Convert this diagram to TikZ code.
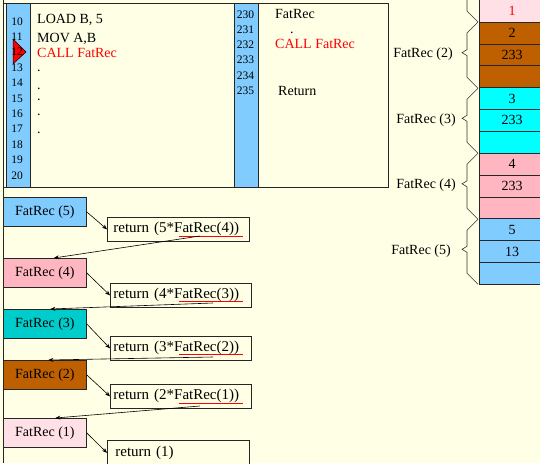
\documentclass[tikz,border=0pt]{standalone}
\usepackage{fontspec}
\setmainfont{Liberation Serif}
\usetikzlibrary{arrows.meta}
\definecolor{bg}{RGB}{255,255,230}
\definecolor{lblue}{RGB}{128,204,255}
\definecolor{brownc}{RGB}{191,96,0}
\definecolor{cyanc}{RGB}{0,255,255}
\definecolor{dcyan}{RGB}{0,204,204}
\definecolor{pinkc}{RGB}{255,182,193}
\definecolor{lpink}{RGB}{255,224,230}
\newcommand\mybrace[2]{\draw[brc] (478,#1) -- (467,#1+11) -- (467,{(#1+#2)/2-5.5}) -- (462,{(#1+#2)/2-2.5}) -- (467,{(#1+#2)/2+0.5}) -- (467,#2-11) -- (478,#2);}
\begin{document}
\begin{tikzpicture}[x=1pt,y=-1pt, font=\fontsize{14}{16}\selectfont,
  frame/.style={draw=black!85, line width=0.7pt},
  fbox/.style={frame, minimum width=83, minimum height=29, inner sep=0, anchor=north west},
  rbox/.style={frame, fill=bg, anchor=north west, minimum height=24, inner ysep=0, align=left, font=\fontsize{15}{17}\selectfont},
  cell/.style={frame, minimum width=66, minimum height=21.86, inner sep=0},
  lnum/.style={font=\fontsize{11.5}{12}\selectfont, anchor=base, inner sep=0},
  code/.style={anchor=base west, inner sep=0},
  arr/.style={line width=0.6pt, -{Stealth[length=5pt,width=4pt]}},
  ul/.style={red, line width=0.7pt},
  brc/.style={line width=0.6pt, draw=black!80},
]
\fill[bg] (0,0) rectangle (540,463);
\useasboundingbox (0,0) rectangle (540,463);

% program listing
\draw[frame] (3,0) -- (3,463);
\node[frame, fill=bg, minimum width=385, minimum height=184, inner sep=0, anchor=north west] (prog) at (3,3) {};
\node[frame, fill=lblue, minimum width=24, minimum height=184, inner sep=0, anchor=north west] (colA) at (6,3) {};
\node[frame, fill=lblue, minimum width=24, minimum height=184, inner sep=0, anchor=north west] (colB) at (234,3) {};
\draw[fill=red, line width=0.5pt] (13,39) -- (26,52) -- (13,64) -- cycle;
\foreach \n [count=\i from 0] in {10,...,20}
  \node[lnum] (ln\n) at (17,{25+15.4*\i}) {\n};
\foreach \n [count=\i from 0] in {230,...,235}
  \node[lnum] (ln\n) at (245.5,{18+15.3*\i}) {\n};

\node[code] (c1) at (37,23) {LOAD B, 5};
\node[code] (c2) at (37,42) {MOV A,B};
\node[code, text=red] (c3) at (37,57) {CALL FatRec};
\foreach \y [count=\i] in {71,89,100,115,133}
  \node[code] (dot\i) at (37,\y) {.};
\node[code] (d1) at (275,18) {FatRec};
\node[code] (d2) at (290,33) {.};
\node[code, text=red] (d3) at (275,48) {CALL FatRec};
\node[code] (d4) at (278,95) {Return};

% stack
\draw[frame, fill=lpink] (479,-10) rectangle (545,22);
\node[text=red] (s1) at (512,11) {1};
\node[cell, fill=brownc] (s2a) at (512,{22+21.86*0.5}) {2};
\node[cell, fill=brownc] (s2b) at (512,{22+21.86*1.5}) {233};
\node[cell, fill=brownc] (s2c) at (512,{22+21.86*2.5}) {};
\node[cell, fill=cyanc] (s3a) at (512,{22+21.86*3.5}) {3};
\node[cell, fill=cyanc] (s3b) at (512,{22+21.86*4.5}) {233};
\node[cell, fill=cyanc] (s3c) at (512,{22+21.86*5.5}) {};
\node[cell, fill=pinkc] (s4a) at (512,{22+21.86*6.5}) {4};
\node[cell, fill=pinkc] (s4b) at (512,{22+21.86*7.5}) {233};
\node[cell, fill=pinkc] (s4c) at (512,{22+21.86*8.5}) {};
\node[cell, fill=lblue] (s5a) at (512,{22+21.86*9.5}) {5};
\node[cell, fill=lblue] (s5b) at (512,{22+21.86*10.5}) {13};
\node[cell, fill=lblue] (s5c) at (512,{22+21.86*11.5}) {};

\draw[brc] (467,-5) -- (467,11) -- (478,22);
\mybrace{22}{88.3}
\mybrace{88.3}{153.3}
\mybrace{153.3}{219.3}
\mybrace{219.3}{284.3}
\node[anchor=base east, inner sep=0] (l2) at (453,57) {FatRec (2)};
\node[anchor=base east, inner sep=0] (l3) at (456,123) {FatRec (3)};
\node[anchor=base east, inner sep=0] (l4) at (456,188) {FatRec (4)};
\node[anchor=base east, inner sep=0] (l5) at (451,254) {FatRec (5)};

% recursion calls
\node[fbox, fill=lblue] (f5) at (3,197) {FatRec (5)};
\node[fbox, fill=pinkc] (f4) at (3,258) {FatRec (4)};
\node[fbox, fill=dcyan] (f3) at (3,309) {FatRec (3)};
\node[fbox, fill=brownc] (f2) at (3,360) {FatRec (2)};
\node[fbox, fill=lpink] (f1) at (3,418) {FatRec (1)};

\node[rbox, text width=130, inner xsep=6] (r5) at (107,217) {return (5*FatRec(4))};
\node[rbox, text width=135, inner xsep=3] (r4) at (110,283) {return (4*FatRec(3))};
\node[rbox, text width=135, inner xsep=3] (r3) at (110,336) {return (3*FatRec(2))};
\node[rbox, text width=135, inner xsep=3] (r2) at (110,384) {return (2*FatRec(1))};
\node[rbox, text width=126, inner xsep=8, minimum height=25] (r1) at (107,440) {return (1)};

\draw[ul] (179,236) -- (243,236);
\draw[ul] (179,301) -- (243,301);
\draw[ul] (179,354) -- (243,354);
\draw[ul] (179,403) -- (243,403);

\coordinate (u5) at (200,236);
\coordinate (u4) at (213,303);
\coordinate (u3) at (213,357);
\coordinate (u2) at (200,406);

\draw[arr] (f5.east) -- (r5.west);
\draw[arr] (f4.east) -- (r4.west);
\draw[arr] (f3.east) -- (r3.west);
\draw[arr] (f2.east) -- (r2.west);
\draw[arr] (f1.east) -- (r1.west);

\draw[arr] (u5) -- ([xshift=9pt]f4.north);
\draw[arr] (u4) -- ([xshift=5.5pt]f3.north);
\draw[arr] (u3) -- ([xshift=3.5pt]f2.north);
\draw[arr] (u2) -- ([xshift=10.5pt]f1.north);
\end{tikzpicture}
\end{document}
